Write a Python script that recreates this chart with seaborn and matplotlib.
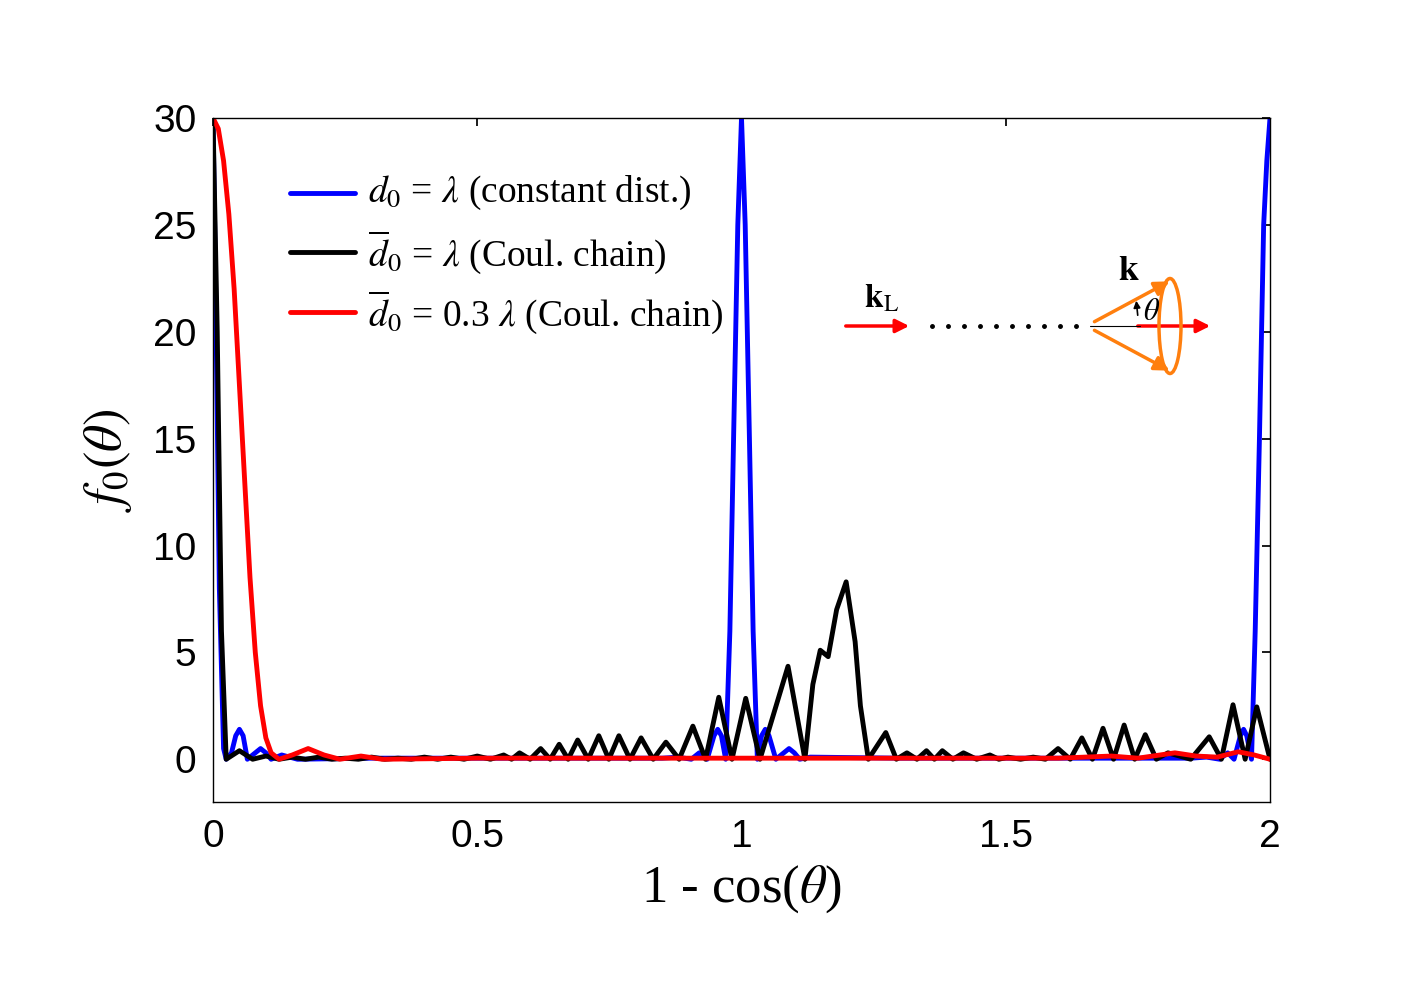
import numpy as np
import matplotlib
matplotlib.use("Agg")
import matplotlib.pyplot as plt
from matplotlib.patches import Ellipse, FancyArrowPatch
import seaborn as sns

# values (peaks / troughs)
blue_x = [0, 0.005, 0.012, 0.02, 0.025, 0.035, 0.043, 0.05, 0.057, 0.065, 0.08, 0.09, 0.1, 0.11, 0.13, 0.16, 0.3, 0.6, 0.85, 0.88, 0.905,
          0.92, 0.935, 0.948, 0.955, 0.962, 0.97, 0.978, 0.985, 0.993, 1.0, 1.007, 1.015, 1.022, 1.03, 1.038, 1.045, 1.052,
          1.065, 1.08, 1.09, 1.1, 1.11, 1.13, 1.3, 1.6, 1.85, 1.88, 1.905, 1.92, 1.932, 1.944, 1.95, 1.956, 1.965,
          1.972, 1.98, 1.988, 1.994, 2.0]
blue_y = [30, 22, 8, 0.5, 0, 0.3, 1.1, 1.4, 1.1, 0, 0.3, 0.5, 0.3, 0, 0.2, 0, 0.05, 0.05, 0.05, 0.1, 0,
          0.3, 0, 1.1, 1.4, 1.1, 0, 6, 15, 25, 30, 25, 15, 6, 0, 1.1, 1.4, 1.1,
          0, 0.3, 0.5, 0.3, 0, 0.1, 0.05, 0.05, 0.05, 0.1, 0, 0.3, 0, 1.1, 1.4, 1.1, 0,
          6, 15, 25, 28, 30]

black_pk_x = [0.0, 0.05, 0.1, 0.15, 0.2, 0.25, 0.3, 0.35, 0.4, 0.45, 0.5, 0.55, 0.58, 0.62, 0.655, 0.69, 0.73, 0.768, 0.81,
              0.857, 0.908, 0.957, 1.008, 1.088, 1.149, 1.198, 1.273, 1.313, 1.35, 1.38, 1.42, 1.47, 1.504, 1.552,
              1.599, 1.644, 1.684, 1.724, 1.764, 1.807, 1.885, 1.93, 1.975]
black_pk_y = [30, 0.4, 0.15, 0.1, 0.1, 0.05, 0.1, 0.05, 0.1, 0.1, 0.15, 0.2, 0.3, 0.5, 0.7, 0.9, 1.1, 1.1, 1.0,
              0.8, 1.55, 2.9, 2.85, 4.35, 5.1, 8.3, 1.25, 0.3, 0.4, 0.4, 0.3, 0.2, 0.1, 0.1,
              0.5, 1.0, 1.45, 1.6, 1.15, 0.3, 1.05, 2.55, 2.45]
black_tr_x = [0.025, 0.075, 0.125, 0.175, 0.225, 0.275, 0.325, 0.375, 0.425, 0.475, 0.525, 0.565, 0.6, 0.638, 0.672,
              0.71, 0.749, 0.789, 0.833, 0.882, 0.932, 0.982, 1.035, 1.12, 1.164, 1.24, 1.293, 1.332, 1.365, 1.4,
              1.445, 1.487, 1.528, 1.575, 1.622, 1.664, 1.704, 1.744, 1.785, 1.85, 1.908, 1.953, 2.0]
black_tr_y = [0, 0, 0, 0, 0, 0, 0, 0, 0, 0, 0, 0, 0, 0, 0, 0, 0, 0, 0, 0, 0, 0, 0, 0, 4.8, 0, 0, 0, 0, 0,
              0, 0, 0, 0, 0, 0, 0, 0, 0, 0, 0, 0, 0]
black_mid_x = [0.008, 0.016, 1.135, 1.18, 1.215, 1.225]
black_mid_y = [20, 6, 3.5, 7, 5.5, 2.5]

red_x = [0, 0.01, 0.02, 0.03, 0.04, 0.05, 0.06, 0.07, 0.08, 0.09, 0.1, 0.11, 0.125, 0.15, 0.18, 0.21, 0.24, 0.28, 0.32,
         0.5, 0.8, 1.2, 1.5, 1.6, 1.7, 1.75, 1.82, 1.86, 1.9, 1.94, 1.97, 2.0]
red_y = [30, 29.5, 28, 25.5, 22, 17.5, 13, 8.5, 5, 2.5, 1, 0.3, 0, 0.2, 0.5, 0.2, 0, 0.15, 0,
         0.05, 0.05, 0.05, 0.05, 0.05, 0.15, 0.05, 0.3, 0.15, 0.1, 0.35, 0.2, 0]

bx = np.array(black_pk_x + black_tr_x + black_mid_x)
by = np.array(black_pk_y + black_tr_y + black_mid_y)
o = np.argsort(bx)
bx, by = bx[o], by[o]

sns.set_theme(style="white")
plt.rcParams["font.family"] = ["Liberation Sans", "DejaVu Sans"]
plt.rcParams["mathtext.fontset"] = "stix"
plt.rcParams["text.color"] = "black"

fig = plt.figure(figsize=(14.08, 9.98), dpi=100)
ax = fig.add_axes([213/1408, 1-802/998, (1270-213)/1408, (802-118)/998])
sns.lineplot(x=blue_x, y=blue_y, ax=ax, color="#0000ff", lw=3.5, sort=False)
sns.lineplot(x=bx, y=by, ax=ax, color="black", lw=3.5, sort=False)
sns.lineplot(x=red_x, y=red_y, ax=ax, color="#ff0000", lw=3.5, sort=False)
ax.set_xlim(0, 2)
ax.set_ylim(-2, 30)
ax.set_xticks([0, 0.5, 1, 1.5, 2])
ax.set_xticklabels(["0", "0.5", "1", "1.5", "2"])
ax.set_yticks([0, 5, 10, 15, 20, 25, 30])
ax.tick_params(labelsize=28, direction="in", length=6, top=True, right=True, pad=12,
               colors="black", labelcolor="black")
for s in ax.spines.values():
    s.set_color("black"); s.set_linewidth(1)
ax.set_xlabel(r"1 - cos($\theta$)", fontsize=38, family="Liberation Serif", labelpad=6, color="black")
ax.set_ylabel(r"$f_0(\theta)$", fontsize=38, labelpad=14, color="black")

# legend
def fx(px): return px/1408
def fy(py): return 1-py/998
labels = [r"$d_0$ = $\lambda$ (constant dist.)", r"$\overline{d}_0$ = $\lambda$ (Coul. chain)",
          r"$\overline{d}_0$ = 0.3 $\lambda$ (Coul. chain)"]
for lab, c, py in zip(labels, ["#0000ff", "black", "#ff0000"], [193, 252, 312]):
    fig.add_artist(plt.Line2D([fx(290), fx(355)], [fy(py), fy(py)], color=c, lw=3.5))
    fig.text(fx(368), fy(py), lab, fontsize=27, family="Liberation Serif", va="center")

# inset diagram
def arrow(p0, p1, c, lw=2.5, ms=20):
    fig.add_artist(FancyArrowPatch((fx(p0[0]), fy(p0[1])), (fx(p1[0]), fy(p1[1])), transform=fig.transFigure,
                                   arrowstyle="-|>", mutation_scale=ms, color=c, lw=lw))
arrow((843, 326), (912, 326), "#ff0000")
fig.text(fx(864), fy(308), r"$\mathbf{k}_{\rm L}$", fontsize=24, family="Liberation Serif")
dots = np.arange(932, 1080, 16)
fig.add_artist(plt.Line2D([fx(x) for x in dots], [fy(326)]*len(dots), ls="none", marker="o", ms=2.5, color="black"))
fig.add_artist(plt.Line2D([fx(1090), fx(1140)], [fy(326), fy(326)], color="black", lw=0.8))
arrow((1135, 326), (1213, 326), "#ff0000")
arrow((1092, 323), (1172, 280), "#ff7f0e", ms=22)
arrow((1092, 329), (1172, 372), "#ff7f0e", ms=22)
fig.add_artist(Ellipse((fx(1170), fy(326)), 22/1408, 95/998, transform=fig.transFigure, fill=False,
                       ec="#ff7f0e", lw=2.5))
arrow((1138, 318), (1136, 298), "black", lw=1.2, ms=10)
fig.text(fx(1143), fy(320), r"$\theta$", fontsize=22, family="Liberation Serif")
fig.text(fx(1118), fy(280), r"$\mathbf{k}$", fontsize=26, family="Liberation Serif")

fig.savefig("out.png", dpi=100, facecolor="white")
